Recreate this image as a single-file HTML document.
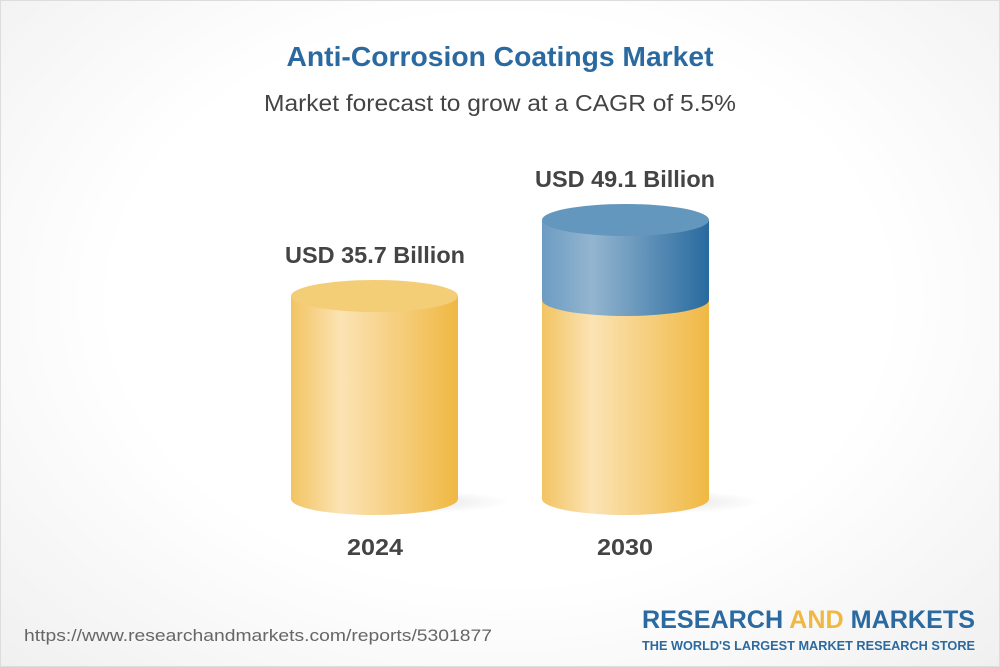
<!DOCTYPE html>
<html><head><style>
body{margin:0;width:1000px;height:667px;overflow:hidden;font-family:"Liberation Sans",sans-serif}
.bg{position:absolute;left:0;top:0;width:998px;height:665px;border:1px solid #ddd;background:radial-gradient(ellipse at 50% 45%,#fff 55%,#f0f0f0 100%)}
</style></head><body>
<div class="bg"></div>
<svg width="1000" height="667" style="position:absolute;left:0;top:0" font-family="Liberation Sans">
<defs>
<linearGradient id="y" x1="0" x2="1"><stop offset="0" stop-color="#f2c462"/><stop offset=".3" stop-color="#fbe3b4"/><stop offset="1" stop-color="#f0b843"/></linearGradient>
<linearGradient id="b" x1="0" x2="1"><stop offset="0" stop-color="#6c9cc3"/><stop offset=".3" stop-color="#93b5cf"/><stop offset="1" stop-color="#286a9f"/></linearGradient>
<radialGradient id="s"><stop offset="0" stop-color="#000" stop-opacity=".12"/><stop offset="1" stop-color="#000" stop-opacity="0"/></radialGradient>
</defs>
<text x="500" y="66" text-anchor="middle" font-size="28" font-weight="bold" fill="#2b6aa0" textLength="427" lengthAdjust="spacingAndGlyphs">Anti-Corrosion Coatings Market</text>
<text x="500" y="111" text-anchor="middle" font-size="23" fill="#444" textLength="472" lengthAdjust="spacingAndGlyphs">Market forecast to grow at a CAGR of 5.5%</text>
<ellipse cx="400" cy="502" rx="110" ry="12" fill="url(#s)"/>
<ellipse cx="651" cy="502" rx="110" ry="12" fill="url(#s)"/>
<path d="M291 296 V499 A83.5 16 0 0 0 458 499 V296 Z" fill="url(#y)"/>
<ellipse cx="374.5" cy="296" rx="83.5" ry="16" fill="#f4cd77"/>
<path d="M542 300 V499 A83.5 16 0 0 0 709 499 V300 Z" fill="url(#y)"/>
<path d="M542 220 V300 A83.5 16 0 0 0 709 300 V220 Z" fill="url(#b)"/>
<ellipse cx="625.5" cy="220" rx="83.5" ry="16" fill="#6497bd"/>
<text x="375" y="263" text-anchor="middle" font-size="23" font-weight="bold" fill="#444" textLength="180" lengthAdjust="spacingAndGlyphs">USD 35.7 Billion</text>
<text x="625" y="187" text-anchor="middle" font-size="23" font-weight="bold" fill="#444" textLength="180" lengthAdjust="spacingAndGlyphs">USD 49.1 Billion</text>
<text x="375" y="555" text-anchor="middle" font-size="23" font-weight="bold" fill="#444" textLength="56" lengthAdjust="spacingAndGlyphs">2024</text>
<text x="625" y="555" text-anchor="middle" font-size="23" font-weight="bold" fill="#444" textLength="56" lengthAdjust="spacingAndGlyphs">2030</text>
<text x="24" y="641" font-size="17" fill="#666" textLength="468" lengthAdjust="spacingAndGlyphs">https://www.researchandmarkets.com/reports/5301877</text>
<text x="975" y="628" text-anchor="end" font-size="25" font-weight="bold" fill="#2b6aa0" textLength="333" lengthAdjust="spacingAndGlyphs">RESEARCH <tspan fill="#f0b843">AND</tspan> MARKETS</text>
<text x="975" y="650" text-anchor="end" font-size="13" font-weight="bold" fill="#2b6aa0" textLength="333" lengthAdjust="spacingAndGlyphs">THE WORLD'S LARGEST MARKET RESEARCH STORE</text>
</svg>
</body></html>
